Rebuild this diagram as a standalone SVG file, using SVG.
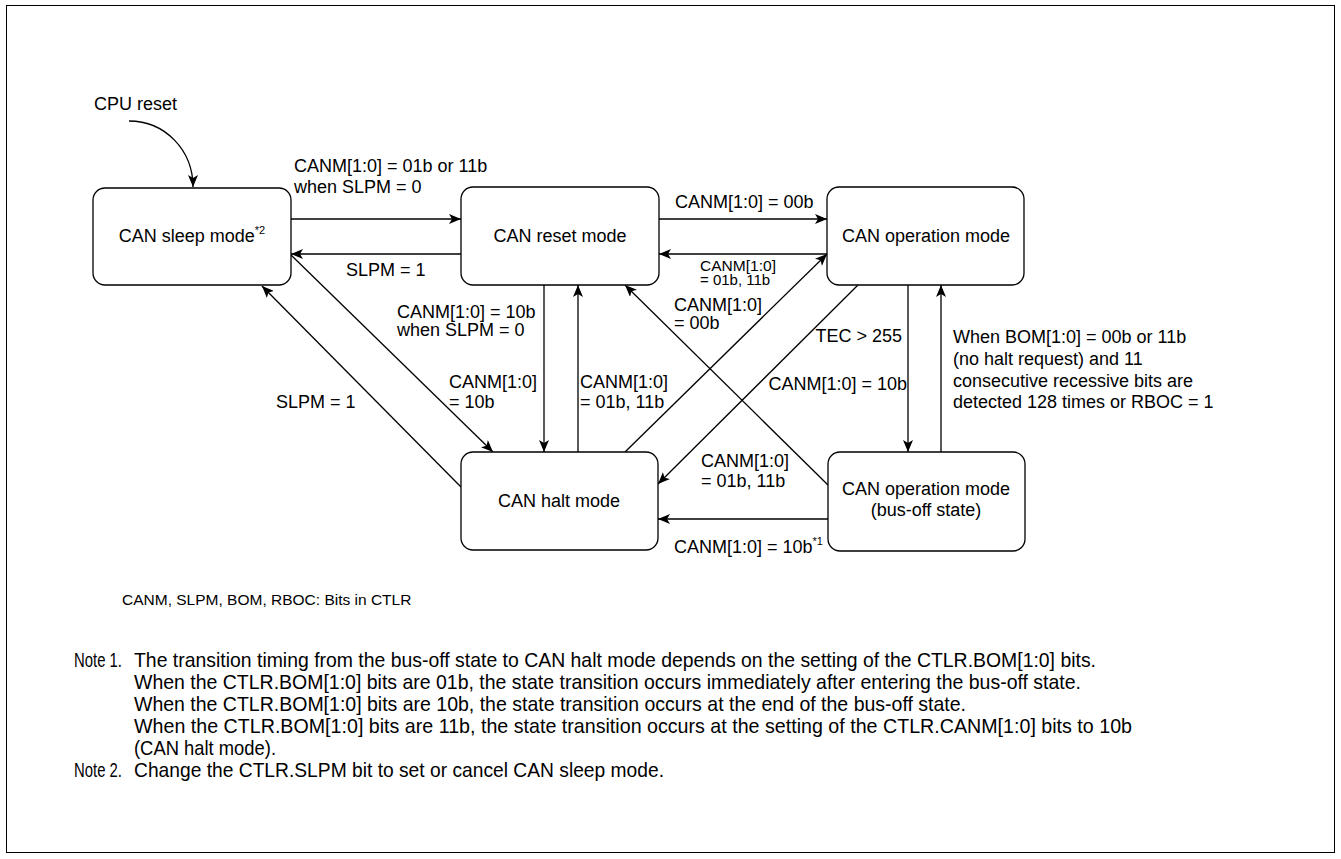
<svg xmlns="http://www.w3.org/2000/svg" width="1341" height="859" viewBox="0 0 1341 859">
<style>
.node{fill:#fff;stroke:#000;stroke-width:1.3}
.t{font-family:"Liberation Sans",Arial,sans-serif;font-size:18px;fill:#000}
.s{font-family:"Liberation Sans",Arial,sans-serif;font-size:15px;fill:#000}
.f{font-family:"Liberation Sans",Arial,sans-serif;font-size:15.5px;fill:#000}
.n{font-family:"Liberation Sans Narrow","Arial Narrow","Liberation Sans",sans-serif;font-size:21px;fill:#000}
.c{fill:none;stroke:#000;stroke-width:1.3}
.m{text-anchor:middle}
</style>
<defs>
<marker id="ah" viewBox="0 0 12 10" refX="12" refY="5" markerWidth="12" markerHeight="10" markerUnits="userSpaceOnUse" orient="auto">
<path d="M0,0 L12,5 L0,10 L3,5 Z" fill="#000"/>
</marker>
</defs>
<rect x="6.5" y="5.5" width="1328" height="847" fill="#fff" stroke="#000" stroke-width="1"/>

<g id="connectors">
<path class="c" d="M129,121 C165,121 193,150 193,187" marker-end="url(#ah)"/>
<line class="c" x1="291" y1="219" x2="461" y2="219" marker-end="url(#ah)"/>
<line class="c" x1="461" y1="254" x2="291" y2="254" marker-end="url(#ah)"/>
<line class="c" x1="659" y1="219" x2="827" y2="219" marker-end="url(#ah)"/>
<line class="c" x1="827" y1="254" x2="659" y2="254" marker-end="url(#ah)"/>
<line class="c" x1="625" y1="452" x2="827" y2="254" marker-end="url(#ah)"/>
<line class="c" x1="858" y1="285" x2="658" y2="484" marker-end="url(#ah)"/>
<line class="c" x1="828" y1="485" x2="625" y2="285" marker-end="url(#ah)"/>
<line class="c" x1="544" y1="285" x2="544" y2="452" marker-end="url(#ah)"/>
<line class="c" x1="578" y1="452" x2="578" y2="285" marker-end="url(#ah)"/>
<line class="c" x1="291" y1="255" x2="493" y2="452" marker-end="url(#ah)"/>
<line class="c" x1="461" y1="487" x2="262" y2="286" marker-end="url(#ah)"/>
<line class="c" x1="908" y1="285" x2="908" y2="452" marker-end="url(#ah)"/>
<line class="c" x1="941" y1="452" x2="941" y2="285" marker-end="url(#ah)"/>
<line class="c" x1="828" y1="519" x2="658" y2="519" marker-end="url(#ah)"/>
</g>

<g id="labels">
<text class="t" x="94" y="110">CPU reset</text>
<text class="t" x="294" y="172">CANM[1:0] = 01b or 11b</text>
<text class="t" x="294" y="193">when SLPM = 0</text>
<text class="t" x="346" y="276">SLPM = 1</text>
<text class="t" x="675" y="208">CANM[1:0] = 00b</text>
<text class="s" x="700" y="271" textLength="76" lengthAdjust="spacingAndGlyphs">CANM[1:0]</text>
<text class="s" x="700" y="285">= 01b, 11b</text>
<text class="t" x="674" y="311">CANM[1:0]</text>
<text class="t" x="674" y="329">= 00b</text>
<text class="t" x="397" y="318">CANM[1:0] = 10b</text>
<text class="t" x="397" y="336">when SLPM = 0</text>
<text class="t" x="449" y="388">CANM[1:0]</text>
<text class="t" x="449" y="408">= 10b</text>
<text class="t" x="580" y="388">CANM[1:0]</text>
<text class="t" x="580" y="408">= 01b, 11b</text>
<text class="t" x="276" y="408">SLPM = 1</text>
<text class="t" x="902" y="342" text-anchor="end">TEC &gt; 255</text>
<text class="t" x="907" y="390" text-anchor="end">CANM[1:0] = 10b</text>
<text class="t" x="953" y="343">When BOM[1:0] = 00b or 11b</text>
<text class="t" x="953" y="365">(no halt request) and 11</text>
<text class="t" x="953" y="387">consecutive recessive bits are</text>
<text class="t" x="953" y="408">detected 128 times or RBOC = 1</text>
<text class="t" x="701" y="467">CANM[1:0]</text>
<text class="t" x="701" y="487">= 01b, 11b</text>
<text class="t" x="674" y="553">CANM[1:0] = 10b<tspan dy="-8" font-size="11">*1</tspan></text>
</g>

<g id="sleep">
<rect class="node" x="93" y="188" width="198" height="97" rx="12"/>
<text class="t m" x="192" y="242">CAN sleep mode<tspan dy="-8" font-size="11">*2</tspan></text>
</g>
<g id="reset">
<rect class="node" x="461" y="187" width="198" height="98" rx="12"/>
<text class="t m" x="560" y="242">CAN reset mode</text>
</g>
<g id="operation">
<rect class="node" x="827" y="187" width="197" height="98" rx="12"/>
<text class="t m" x="926" y="242">CAN operation mode</text>
</g>
<g id="halt">
<rect class="node" x="461" y="452" width="197" height="98" rx="12"/>
<text class="t m" x="559" y="507">CAN halt mode</text>
</g>
<g id="busoff">
<rect class="node" x="828" y="452" width="197" height="99" rx="12"/>
<text class="t m" x="926" y="495">CAN operation mode</text>
<text class="t m" x="926" y="516">(bus-off state)</text>
</g>

<g id="notes">
<text class="f" x="122" y="605">CANM, SLPM, BOM, RBOC: Bits in CTLR</text>
<text class="n" x="74" y="667" textLength="48" lengthAdjust="spacingAndGlyphs">Note 1.</text>
<text class="n" x="134" y="667" textLength="962" lengthAdjust="spacingAndGlyphs">The transition timing from the bus-off state to CAN halt mode depends on the setting of the CTLR.BOM[1:0] bits.</text>
<text class="n" x="134" y="689" textLength="947" lengthAdjust="spacingAndGlyphs">When the CTLR.BOM[1:0] bits are 01b, the state transition occurs immediately after entering the bus-off state.</text>
<text class="n" x="134" y="711" textLength="832" lengthAdjust="spacingAndGlyphs">When the CTLR.BOM[1:0] bits are 10b, the state transition occurs at the end of the bus-off state.</text>
<text class="n" x="134" y="733" textLength="998" lengthAdjust="spacingAndGlyphs">When the CTLR.BOM[1:0] bits are 11b, the state transition occurs at the setting of the CTLR.CANM[1:0] bits to 10b</text>
<text class="n" x="134" y="755" textLength="142" lengthAdjust="spacingAndGlyphs">(CAN halt mode).</text>
<text class="n" x="74" y="777" textLength="48" lengthAdjust="spacingAndGlyphs">Note 2.</text>
<text class="n" x="134" y="777" textLength="530" lengthAdjust="spacingAndGlyphs">Change the CTLR.SLPM bit to set or cancel CAN sleep mode.</text>
</g>
</svg>
